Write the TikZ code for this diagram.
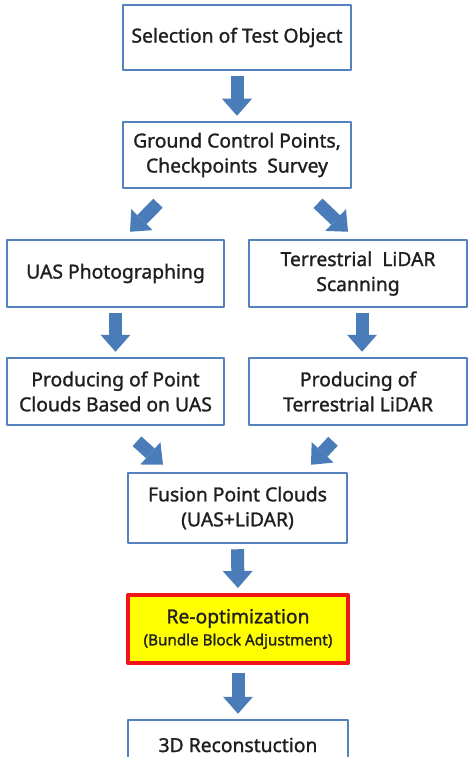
\documentclass[tikz,border=0pt]{standalone}
\usepackage{fontspec}
\setmainfont{Noto Sans}[FakeBold=1.3]
\usetikzlibrary{arrows.meta}
\definecolor{boxblue}{RGB}{84,130,190}
\definecolor{arrowblue}{RGB}{74,124,186}
\definecolor{reoyellow}{RGB}{255,255,0}
\definecolor{reored}{RGB}{240,20,20}
\begin{document}
\begin{tikzpicture}[x=1pt,y=-1pt,line join=round,
  stepbox/.style={draw=boxblue,line width=2.5pt,fill=white,align=center,inner sep=0pt,
    minimum width=219pt,minimum height=66pt,text=black!88,
    font=\fontsize{19.3}{25}\selectfont},
  flow/.style={draw=arrowblue,line width=13pt,
    -{Triangle[length=17pt,width=30pt,line width=0pt]}}]
  \clip (0,0) rectangle (469,757);
  \fill[white] (0,0) rectangle (469,757);
  % boxes
  \node[stepbox,minimum width=228pt,minimum height=65pt] (sel) at (237,37.5) {Selection of Test Object};
  \node[stepbox,minimum width=228pt] (gcp) at (237,155) {Ground Control Points,\\Checkpoints\ \ Survey};
  \node[stepbox,minimum width=217pt,minimum height=67pt] (uas) at (115.5,273.5) {UAS Photographing};
  \node[stepbox,minimum width=218pt,minimum height=67pt] (tls) at (358,273.5) {Terrestrial\ \ LiDAR\\Scanning};
  \node[stepbox,minimum width=217pt,minimum height=67pt] (pcu) at (115.5,391.5) {Producing of Point\\Clouds Based on UAS};
  \node[stepbox,minimum width=218pt,minimum height=67pt] (pcl) at (358,391.5) {Producing of\\Terrestrial LiDAR};
  \node[stepbox,minimum height=70pt] (fus) at (237.5,508) {Fusion Point Clouds\\(UAS+LiDAR)};
  \node[stepbox,minimum width=220pt,minimum height=68pt,fill=reoyellow,draw=reored,line width=4pt] (reo) at (238,629)
    {Re-optimization\\[-3pt]{\fontsize{15.2}{18}\selectfont(Bundle Block Adjustment)}};
  \node[stepbox,minimum width=220pt,minimum height=50pt] (rec) at (238,745) {3D Reconstuction};
  % arrows
  \draw[flow,shorten <=5pt,shorten >=5pt] (sel.south) -- (gcp.north);
  \draw[flow] ([shift={(-79,14)}]gcp.south) -- ([shift={(14.5,-7)}]uas.north);
  \draw[flow] ([shift={(81,14)}]gcp.south) -- ([shift={(-10,-7)}]tls.north);
  \draw[flow,shorten <=5pt,shorten >=5pt] (uas.south) -- (pcu.north);
  \draw[flow,shorten <=5pt,shorten >=5pt] ([shift={(4,0)}]tls.south) -- ([shift={(4,0)}]pcl.north);
  \draw[flow] ([shift={(21.5,15)}]pcu.south) -- ([shift={(-74.5,-7)}]fus.north);
  \draw[flow] ([shift={(-25,15)}]pcl.south) -- ([shift={(73.5,-7)}]fus.north);
  \draw[flow,shorten <=5pt,shorten >=5pt] (fus.south) -- (reo.north);
  \draw[flow,shorten <=8pt,shorten >=5pt] (reo.south) -- (rec.north);
\end{tikzpicture}
\end{document}
